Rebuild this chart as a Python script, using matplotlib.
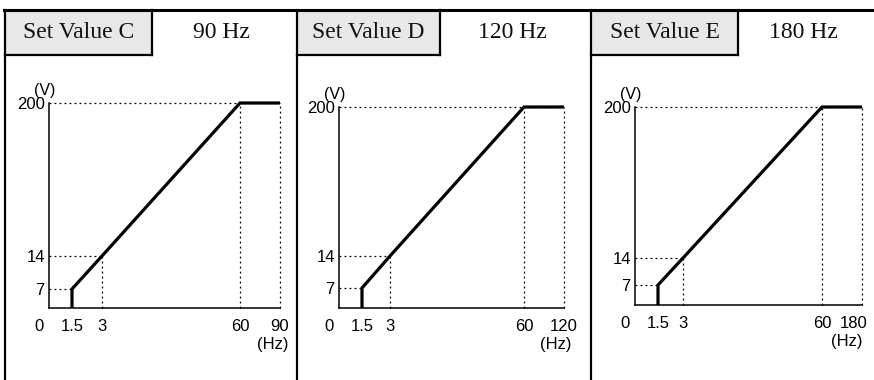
import numpy as np
import matplotlib
matplotlib.use("Agg")
import matplotlib.pyplot as plt
from matplotlib.patches import Rectangle
from matplotlib.transforms import ScaledTranslation

# data
set_names = ["Set Value C", "Set Value D", "Set Value E"]
max_freq = [90, 120, 180]
freq_labels = ["90 Hz", "120 Hz", "180 Hz"]
x_ticks = [0, 1.5, 3, 60]
y_ticks = [7, 14, 200]
curve_x = [1.5, 1.5, 3, 60]
curve_y = [0, 7, 14, 200]

# layout (pixels)
W, H = 874, 380
panel_left = [5, 297, 591]
box_right = [152, 440, 738]
origin_x = [49, 339, 635]
origin_y = [308, 308, 305]
x_pix = [[0, 23, 53, 191, 231], [0, 23, 51, 185, 225], [0, 23, 48, 187, 227]]
y_pix = [[0, 19, 52, 205], [0, 20, 52, 201], [0, 20, 47, 198]]
last_shift = [0, 0, -8]

fig = plt.figure(figsize=(W / 100, H / 100), dpi=100)

# frame / table
bg = fig.add_axes([0, 0, 1, 1])
bg.set_xlim(0, W)
bg.set_ylim(H, 0)
bg.axis("off")
bg.plot([4, W], [10, 10], color="black", lw=2.2)
for i in range(3):
    x0, x1 = panel_left[i], box_right[i]
    bg.add_patch(Rectangle((x0, 10), x1 - x0, 45, facecolor="#e8e8e8", edgecolor="none"))
    bg.plot([x0, x0], [10, H], color="black", lw=1.6)
    bg.plot([x1, x1], [10, 55], color="black", lw=1.6)
    bg.plot([x0, x1], [55, 55], color="black", lw=1.6)
    nxt = panel_left[i + 1] if i < 2 else W
    bg.text((x0 + x1) / 2, 33, set_names[i], ha="center", va="center",
            family="Liberation Serif", fontsize=17, color="#111111")
    bg.text((x1 + nxt) / 2 - 3, 33, freq_labels[i], ha="center", va="center",
            family="Liberation Serif", fontsize=17, color="#111111")

for i in range(3):
    fmax = max_freq[i]
    xv = x_ticks + [fmax]
    yv = [0] + y_ticks
    xp = x_pix[i]
    yp = y_pix[i]
    w, h = xp[-1], yp[-1]
    ox, oy = origin_x[i], origin_y[i]
    ax = fig.add_axes([ox / W, (H - oy) / H, w / W, h / H])
    ax.patch.set_alpha(0)
    ax.set_xscale("function", functions=(lambda v, a=xv, b=xp: np.interp(v, a, b),
                                         lambda p, a=xv, b=xp: np.interp(p, b, a)))
    ax.set_yscale("function", functions=(lambda v, a=yv, b=yp: np.interp(v, a, b),
                                         lambda p, a=yv, b=yp: np.interp(p, b, a)))
    ax.set_xlim(0, fmax)
    ax.set_ylim(0, 200)

    dot = dict(color="black", lw=0.9, ls=(0, (1.5, 2.5)), clip_on=False)
    ax.plot([0, fmax], [200, 200], **dot)
    ax.plot([0, 3], [14, 14], **dot)
    ax.plot([0, 1.5], [7, 7], **dot)
    ax.plot([3, 3], [0, 14], **dot)
    ax.plot([60, 60], [0, 200], **dot)
    ax.plot([fmax, fmax], [0, 200], **dot)

    ax.plot(curve_x + [fmax], curve_y + [200], color="black", lw=2.3,
            solid_capstyle="butt", solid_joinstyle="miter", clip_on=False)

    for s in ["top", "right"]:
        ax.spines[s].set_visible(False)
    for s in ["left", "bottom"]:
        ax.spines[s].set_linewidth(1.1)
    ax.set_xticks(xv)
    ax.set_xticklabels([str(v) for v in xv], family="Liberation Sans", fontsize=12)
    ax.set_yticks(y_ticks)
    ax.set_yticklabels([str(v) for v in y_ticks], family="Liberation Sans", fontsize=12)
    ax.xaxis.set_minor_locator(matplotlib.ticker.NullLocator())
    ax.yaxis.set_minor_locator(matplotlib.ticker.NullLocator())
    ax.tick_params(axis="x", length=0, pad=8)
    ax.tick_params(axis="y", length=0, pad=3)
    labels = ax.get_xticklabels()
    zero = labels[0]
    zero.set_transform(zero.get_transform() + ScaledTranslation(-0.1, 0, fig.dpi_scale_trans))
    last = labels[-1]
    last.set_transform(last.get_transform() + ScaledTranslation(last_shift[i] / 100, 0, fig.dpi_scale_trans))

    ax.annotate("(V)", xy=(0, 200), xytext=(-15, 5), textcoords="offset pixels",
                ha="left", va="bottom", family="Liberation Sans", fontsize=11.5)
    ax.annotate("(Hz)", xy=(fmax, 0), xytext=(8 + last_shift[i], -29), textcoords="offset pixels",
                ha="right", va="top", family="Liberation Sans", fontsize=12)

fig.savefig("out.png", dpi=100)
